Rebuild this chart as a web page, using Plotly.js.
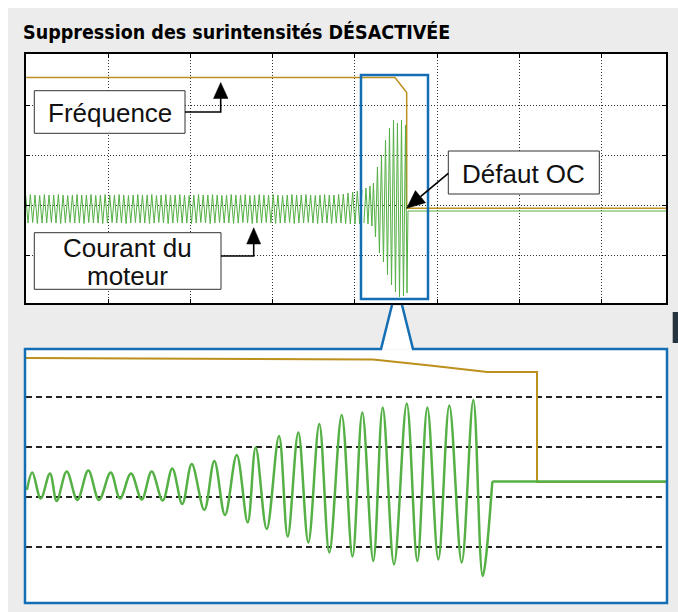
<!DOCTYPE html>
<html>
<head>
<meta charset="utf-8">
<script src="https://cdn.plot.ly/plotly-3.0.1.min.js"></script>
<style>html,body{margin:0;padding:0;background:#fff;}#chart{width:678px;height:612px;}</style>
</head>
<body>
<div id="chart"></div>
<script>
// ---------------- DATA ----------------
// Overview panel: time in grid divisions, level in grid divisions
const topTimeGrid = [1, 2, 3, 4, 5, 6, 7];
const topLevelGrid = [-1, 0, 1, 2];

const topFreqTime = [0, 4.486, 4.628, 4.628, 7.778];
const topFreq     = [2.55, 2.55, 2.25, -0.066, -0.066];

// steady motor current before the fault (extrema, one every sample step)
const steadyStart = 0;
const steadyStep = 0.02837;
const steadyCurrent = [
  0.20,-0.36,0.21,-0.35,0.20,-0.37,0.19,-0.36,0.21,-0.36,
  0.20,-0.35,0.20,-0.36,0.21,-0.37,0.20,-0.36,0.19,-0.35,
  0.20,-0.36,0.21,-0.36,0.20,-0.37,0.20,-0.35,0.21,-0.36,
  0.19,-0.36,0.20,-0.37,0.21,-0.36,0.20,-0.35,0.20,-0.36,
  0.21,-0.36,0.20,-0.37,0.19,-0.36,0.20,-0.35,0.21,-0.36,
  0.20,-0.36,0.20,-0.37,0.21,-0.36,0.19,-0.35,0.20,-0.36,
  0.21,-0.37,0.20,-0.36,0.20,-0.35,0.21,-0.36,0.20,-0.36,
  0.19,-0.37,0.20,-0.36,0.21,-0.35,0.20,-0.36,0.20,-0.37,
  0.21,-0.36,0.20,-0.35,0.19,-0.36,0.20,-0.36,0.21,-0.37,
  0.20,-0.36,0.20,-0.35,0.21,-0.36,0.19,-0.37,0.20,-0.36,
  0.21,-0.36,0.20,-0.35,0.20,-0.36,0.21,-0.37,0.20,-0.36,
  0.19,-0.36,0.20,-0.35,0.21,-0.37,0.20,-0.36,0.20,-0.36,
  0.21,-0.35,0.20,-0.36,0.19,-0.37,0.20,-0.36,0.21,-0.36,
  0.20,-0.37,0.20,-0.36,0.21,-0.36,0.22,-0.37,0.24,-0.38,
  0.26,-0.38,0.28,-0.38,0.30
];

// fault burst and trip
const burstTime = [4.109,4.134,4.158,4.182,4.206,4.224,4.249,4.273,4.297,4.322,
                   4.346,4.371,4.395,4.419,4.444,4.468,4.492,4.516,4.541,4.565,
                   4.589,4.614,4.632,4.644,7.778];
const burstCurrent = [-0.36,0.34,-0.38,0.38,-0.42,0.44,-0.64,0.76,-0.96,1.00,
                      -1.14,1.30,-1.40,1.54,-1.60,1.70,-1.74,1.64,-1.84,1.70,
                      -1.82,1.60,-1.76,-0.12,-0.12];

// Zoomed panel
const zoomLevelGrid = [-1, 0, 1, 2];
const zoomFreqTime = [0, 5.42, 6.31, 7.20, 7.975, 7.975, 9.984];
const zoomFreq     = [2.78, 2.75, 2.63, 2.50, 2.50, 0.30, 0.30];

const zoomCurTime = [0.03,0.114,0.245,0.389,0.494,0.650,0.815,0.986,1.153,1.335,
                     1.480,1.651,1.818,1.973,2.145,2.294,2.450,2.597,2.793,2.949,
                     3.115,3.298,3.469,3.593,3.765,3.956,4.092,4.257,4.413,4.584,
                     4.740,4.933,5.101,5.254,5.425,5.572,5.748,5.946,6.111,6.267,
                     6.438,6.609,6.802,6.983,7.129,7.279];
const zoomCurrent = [0.14,0.49,-0.03,0.47,-0.08,0.51,-0.06,0.53,-0.06,0.49,
                     -0.03,0.47,-0.05,0.51,-0.07,0.57,-0.14,0.66,-0.26,0.72,
                     -0.36,0.84,-0.51,0.99,-0.64,1.22,-0.79,1.29,-0.91,1.46,
                     -1.11,1.64,-1.19,1.69,-1.28,1.79,-1.35,1.87,-1.28,1.79,
                     -1.25,1.83,-1.31,1.94,-1.58,0.31];
const zoomFlatTime = [7.279, 9.984];
const zoomFlat     = [0.31, 0.31];

const labels = {
  title: 'Suppression des surintensités DÉSACTIVÉE',
  freq: 'Fréquence',
  cur1: 'Courant du',
  cur2: 'moteur',
  fault: 'Défaut OC'
};

// ---------------- STYLE / LAYOUT ----------------
const W = 678, H = 612;
const PX = x => x / W;
const PY = y => 1 - y / H;
const GOLD = '#bd8f1c', GREEN = '#55b045', BLUE = '#146eb4';

const traces = [
  {x: topFreqTime, y: topFreq, xaxis: 'x', yaxis: 'y', mode: 'lines',
   line: {color: GOLD, width: 1.5}, hoverinfo: 'skip'},
  {y: steadyCurrent, x0: steadyStart, dx: steadyStep, xaxis: 'x', yaxis: 'y', mode: 'lines',
   line: {color: GREEN, width: 1}, hoverinfo: 'skip'},
  {x: burstTime, y: burstCurrent, xaxis: 'x', yaxis: 'y', mode: 'lines',
   line: {color: GREEN, width: 1}, hoverinfo: 'skip'},
  {x: zoomFreqTime, y: zoomFreq, xaxis: 'x2', yaxis: 'y2', mode: 'lines',
   line: {color: GOLD, width: 2}, hoverinfo: 'skip'},
  {x: zoomCurTime, y: zoomCurrent, xaxis: 'x2', yaxis: 'y2', mode: 'lines',
   line: {color: GREEN, width: 2.5, shape: 'spline', smoothing: 1}, hoverinfo: 'skip'},
  {x: zoomFlatTime, y: zoomFlat, xaxis: 'x2', yaxis: 'y2', mode: 'lines',
   line: {color: GREEN, width: 2.5}, hoverinfo: 'skip'}
];

function rectPx(x0, y0, x1, y1, fill, lineColor, lw) {
  return {type: 'rect', xref: 'paper', yref: 'paper', x0: PX(x0), x1: PX(x1), y0: PY(y0), y1: PY(y1),
          fillcolor: fill, line: {color: lineColor || 'rgba(0,0,0,0)', width: lw || 0}, layer: 'above'};
}
function pathPx(pts, close, fill, lineColor, lw) {
  let d = pts.map((p, i) => (i ? 'L' : 'M') + PX(p[0]).toFixed(5) + ',' + PY(p[1]).toFixed(5)).join(' ');
  if (close) d += ' Z';
  return {type: 'path', xref: 'paper', yref: 'paper', path: d,
          fillcolor: fill || 'rgba(0,0,0,0)', line: {color: lineColor || 'rgba(0,0,0,0)', width: lw || 0}, layer: 'above'};
}

const shapes = [
  // white margins of the page
  {type: 'rect', xref: 'paper', yref: 'paper', x0: 0, x1: 1, y0: PY(8), y1: 1, fillcolor: '#ffffff', line: {width: 0}, layer: 'below'},
  {type: 'rect', xref: 'paper', yref: 'paper', x0: 0, x1: PX(8), y0: 0, y1: 1, fillcolor: '#ffffff', line: {width: 0}, layer: 'below'},
  // dark tab at right edge
  rectPx(672.7, 312, 678, 343, '#25343f'),
  // zoom window in overview
  {type: 'rect', xref: 'x', yref: 'y', x0: 4.073, x1: 4.887, y0: -1.88, y1: 2.60,
   line: {color: BLUE, width: 2.5}, fillcolor: 'rgba(0,0,0,0)', layer: 'above'},
  // callout neck fill
  pathPx([[392, 306], [381, 349.5], [413, 349.5], [402, 306]], true, '#ffffff'),
  // zoom panel outline with neck
  pathPx([[392, 305], [381, 349], [25, 349], [25, 603], [667, 603], [667, 349], [413, 349], [402, 305]], false, null, BLUE, 2.5),
  // label boxes
  rectPx(34.3, 90.7, 185, 133.3, '#ffffff', '#333333', 1),
  rectPx(34.3, 232.7, 221, 289.3, '#ffffff', '#333333', 1),
  rectPx(448.3, 151, 599.3, 194, '#ffffff', '#333333', 1),
  // Fréquence connector
  pathPx([[185, 112], [220.7, 112], [220.7, 97]], false, null, '#000000', 1.6),
  pathPx([[213.5, 98.5], [228, 98.5], [220.7, 82.5]], true, '#000000', '#000000', 0.5),
  // Courant connector
  pathPx([[221, 256], [253.7, 256], [253.7, 243]], false, null, '#000000', 1.6),
  pathPx([[246.7, 244], [260.7, 244], [253.7, 227.7]], true, '#000000', '#000000', 0.5),
  // Défaut OC connector
  pathPx([[448.3, 173.3], [420.5, 196.7]], false, null, '#000000', 1.6),
  pathPx([[406.7, 208.3], [425.6, 202.8], [415.4, 190.6]], true, '#000000', '#000000', 0.5)
];

const labelFont = {family: 'Liberation Sans, Arial, sans-serif', size: 26, color: '#111111'};
function txt(t, x, y, font, anchor) {
  return {text: t, xref: 'paper', yref: 'paper', x: PX(x), y: PY(y), xanchor: anchor || 'center',
          yanchor: 'middle', showarrow: false, font: font};
}
const annotations = [
  txt('<b>' + labels.title + '</b>', 21, 32,
      {family: 'Liberation Sans Narrow, DejaVu Sans Condensed, sans-serif', size: 19.5, color: '#000000'}, 'left'),
  txt(labels.freq, 110, 113, labelFont),
  txt(labels.cur1, 127.7, 248, labelFont),
  txt(labels.cur2, 127.8, 276.5, labelFont),
  txt(labels.fault, 523.5, 173.5, labelFont)
];

const layout = {
  width: W, height: H,
  margin: {l: 0, r: 0, t: 0, b: 0, pad: 0},
  paper_bgcolor: '#ececec', plot_bgcolor: '#ffffff',
  showlegend: false,
  xaxis: {domain: [PX(26), PX(666)], range: [0.004, 7.778], anchor: 'y',
          tickvals: topTimeGrid, showticklabels: false, showgrid: true,
          gridcolor: '#333333', griddash: '1px,2px', gridwidth: 1, zeroline: false,
          showline: true, linecolor: '#000000', linewidth: 2, mirror: 'ticks',
          ticks: 'inside', ticklen: 4, tickcolor: '#000000', tickwidth: 1},
  yaxis: {domain: [PY(303), PY(54)], range: [-1.96, 3.02], anchor: 'x',
          tickvals: topLevelGrid, showticklabels: false, showgrid: true,
          gridcolor: '#333333', griddash: '1px,2px', gridwidth: 1, zeroline: false,
          showline: true, linecolor: '#000000', linewidth: 2, mirror: 'ticks',
          ticks: 'inside', ticklen: 4, tickcolor: '#000000', tickwidth: 1},
  xaxis2: {domain: [PX(26), PX(666)], range: [0.0156, 9.984], anchor: 'y2',
           showgrid: false, showticklabels: false, zeroline: false, showline: false, ticks: ''},
  yaxis2: {domain: [PY(602), PY(350)], range: [-2.1, 2.94], anchor: 'x2',
           tickvals: zoomLevelGrid, showticklabels: false, showgrid: true,
           gridcolor: '#222222', griddash: '6px,4px', gridwidth: 1.2,
           zeroline: false, showline: false, ticks: ''},
  shapes: shapes,
  annotations: annotations
};

Plotly.newPlot('chart', traces, layout, {staticPlot: true, displayModeBar: false});
</script>
</body>
</html>
